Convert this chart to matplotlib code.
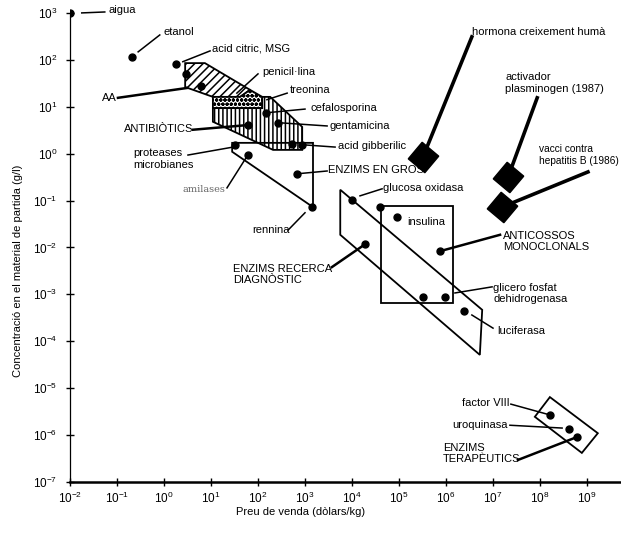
import matplotlib.pyplot as plt
import numpy as np

plt.rcParams['font.family'] = ['Liberation Sans', 'DejaVu Sans']
plt.rcParams['hatch.linewidth'] = 1.1

# tots els valors en log10: x = preu de venda (dolars/kg), y = concentracio (g/l)
punt_x = [-2.0, -0.68, 0.26, 0.47, 0.79, 2.17, 2.43, 2.72, 2.94, 1.51, 1.79,
          3.15, 1.79, 2.83, 4.0, 4.6, 4.96, 4.28, 5.87, 5.51, 5.98, 6.38,
          8.21, 8.62, 8.79]
punt_y = [3.0, 2.06, 1.91, 1.70, 1.44, 0.87, 0.66, 0.21, 0.19, 0.19, -0.03,
          -1.14, 0.61, -0.43, -0.99, -1.14, -1.35, -1.93, -2.08, -3.06, -3.06,
          -3.35, -5.57, -5.87, -6.04]

# productes nous (rombes)
diam_x = [5.51, 7.32, 7.19]
diam_y = [-0.07, -0.50, -1.14]

# zones
aa_x = [0.45, 0.87, 1.83, 1.62, 1.04, 0.45]
aa_y = [1.93, 1.93, 1.36, 1.21, 1.21, 1.42]
pen_x = [1.04, 1.62, 1.83, 2.09, 2.09, 1.04]
pen_y = [1.21, 1.21, 1.36, 1.21, 0.97, 0.97]
antib_x = [1.04, 2.09, 2.09, 2.26, 2.94, 2.94, 2.32, 1.04]
antib_y = [0.97, 0.97, 1.21, 1.21, 0.57, 0.08, 0.08, 0.68]
gros_x = [1.45, 3.17, 3.17, 1.45]
gros_y = [0.23, 0.23, -1.14, 0.04]
diag_x = [3.75, 3.75, 6.72, 6.77]
diag_y = [-0.77, -1.73, -4.29, -3.33]
mono_x = [4.62, 6.15, 6.15, 4.62]
mono_y = [-1.12, -1.12, -3.18, -3.18]
terap_x = [8.21, 9.23, 8.89, 7.89]
terap_y = [-5.19, -5.96, -6.38, -5.61]

etiquetes = [
    ("aigua", -1.19, 3.06, 'left'),
    ("etanol", -0.02, 2.60, 'left'),
    ("acid citric, MSG", 1.02, 2.25, 'left'),
    ("AA", -1.32, 1.19, 'left'),
    ("penicil·lina", 2.09, 1.74, 'left'),
    ("treonina", 2.68, 1.36, 'left'),
    ("cefalosporina", 3.11, 0.97, 'left'),
    ("gentamicina", 3.53, 0.59, 'left'),
    ("acid gibberilic", 3.70, 0.16, 'left'),
    ("ANTIBIÒTICS", -0.85, 0.53, 'left'),
    ("proteases\nmicrobianes", -0.66, -0.12, 'left'),
    ("rennina", 1.87, -1.63, 'left'),
    ("ENZIMS EN GROS", 3.49, -0.35, 'left'),
    ("glucosa oxidasa", 4.66, -0.73, 'left'),
    ("insulina", 5.17, -1.46, 'left'),
    ("ANTICOSSOS\nMONOCLONALS", 7.21, -1.87, 'left'),
    ("ENZIMS RECERCA\nDIAGNÒSTIC", 1.47, -2.58, 'left'),
    ("glicero fosfat\ndehidrogenasa", 7.0, -2.98, 'left'),
    ("luciferasa", 7.09, -3.78, 'left'),
    ("hormona creixement humà", 6.55, 2.60, 'left'),
    ("activador\nplasminogen (1987)", 7.26, 1.50, 'left'),
    ("factor VIII", 7.36, -5.32, 'right'),
    ("uroquinasa", 7.32, -5.79, 'right'),
    ("ENZIMS\nTERAPÈUTICS", 5.94, -6.39, 'left'),
]

linies_fines = [
    (-1.75, 3.0, -1.26, 3.02), (-0.55, 2.17, -0.09, 2.53), (0.40, 1.96, 0.98, 2.19),
    (2.0, 1.70, 1.55, 1.29), (2.62, 1.29, 2.19, 1.15), (2.17, 0.87, 3.0, 0.95),
    (2.43, 0.66, 3.47, 0.59), (2.94, 0.19, 3.64, 0.14), (0.51, -0.03, 1.47, 0.14),
    (1.34, -0.73, 1.77, -0.05), (2.64, -1.63, 3.0, -1.26), (3.47, -0.37, 2.83, -0.43),
    (4.17, -0.90, 4.64, -0.75), (6.19, -2.97, 6.98, -2.84), (6.55, -3.44, 7.0, -3.72),
    (7.38, -5.34, 8.21, -5.57), (7.36, -5.79, 8.47, -5.85),
]
linies_mitjanes = [
    (-0.98, 1.19, 0.49, 1.40), (0.62, 0.51, 1.79, 0.61), (7.15, -1.73, 5.87, -2.08),
    (3.57, -2.42, 4.28, -1.93), (7.53, -6.53, 8.79, -6.04),
]
linies_gruixudes = [
    (6.55, 2.49, 5.51, -0.07), (7.94, 1.19, 7.32, -0.50), (9.02, -0.39, 7.19, -1.14),
]

fig = plt.figure(figsize=(6.21, 5.35), dpi=100)
ax = fig.add_axes([70 / 621, 53 / 535, 551 / 621, 478 / 535])
ax.set_xscale('log')
ax.set_yscale('log')

p = lambda v: np.power(10.0, v)

ax.fill(p(aa_x), p(aa_y), facecolor='white', edgecolor='black', hatch='////', lw=1.3, zorder=2)
ax.fill(p(pen_x), p(pen_y), facecolor='white', edgecolor='black', hatch='oooo', lw=1.3, zorder=2)
ax.fill(p(antib_x), p(antib_y), facecolor='white', edgecolor='black', hatch='||||', lw=1.3, zorder=2)
for zx, zy in [(gros_x, gros_y), (diag_x, diag_y), (mono_x, mono_y), (terap_x, terap_y)]:
    ax.fill(p(zx), p(zy), facecolor='none', edgecolor='black', lw=1.3, zorder=3)

for x0, y0, x1, y1 in linies_fines:
    ax.plot(p([x0, x1]), p([y0, y1]), color='black', lw=1.1, zorder=4)
for x0, y0, x1, y1 in linies_mitjanes:
    ax.plot(p([x0, x1]), p([y0, y1]), color='black', lw=1.8, zorder=4)
for x0, y0, x1, y1 in linies_gruixudes:
    ax.plot(p([x0, x1]), p([y0, y1]), color='black', lw=2.6, zorder=4)

ax.plot(p(punt_x), p(punt_y), 'o', color='black', ms=5, zorder=5)
ax.plot(p(diam_x), p(diam_y), marker=(4, 0, 5), ls='none', color='black', ms=22, zorder=5)

for txt, x, y, ha in etiquetes:
    ax.text(p(x), p(y), txt, ha=ha, va='center', fontsize=8, zorder=6)
# a la vora dreta: una mica mes petit perque hi capiga
ax.text(p(7.98), p(-0.03), "vacci contra\nhepatitis B (1986)", ha='left', va='center',
        fontsize=7.3, zorder=6)
ax.text(p(0.40), p(-0.77), "amilases", ha='left', va='center', fontsize=7,
        color='0.4', family='DejaVu Serif')

ax.set_xlim(1e-2, p(9.723))
ax.set_ylim(1e-7, p(3.19))
ax.set_xticks(p(np.arange(-2, 10)))
ax.set_yticks(p(np.arange(-7, 4)))
ax.minorticks_off()
ax.spines['top'].set_visible(False)
ax.spines['right'].set_visible(False)
ax.spines['left'].set_bounds(1e-7, 1e3)
ax.spines['left'].set_linewidth(0.9)
ax.spines['bottom'].set_linewidth(1.8)
ax.tick_params(direction='inout', length=6, width=1, labelsize=8.5)
ax.tick_params(axis='y', pad=6)
ax.tick_params(axis='x', pad=3)

fig.text(18 / 621, 1 - 271 / 535, "Concentració en el material de partida (g/l)",
         rotation=90, ha='center', va='center', fontsize=8)
fig.text(301 / 621, 1 - 512 / 535, "Preu de venda (dòlars/kg)",
         ha='center', va='center', fontsize=8)

fig.savefig("out.png", dpi=100)
